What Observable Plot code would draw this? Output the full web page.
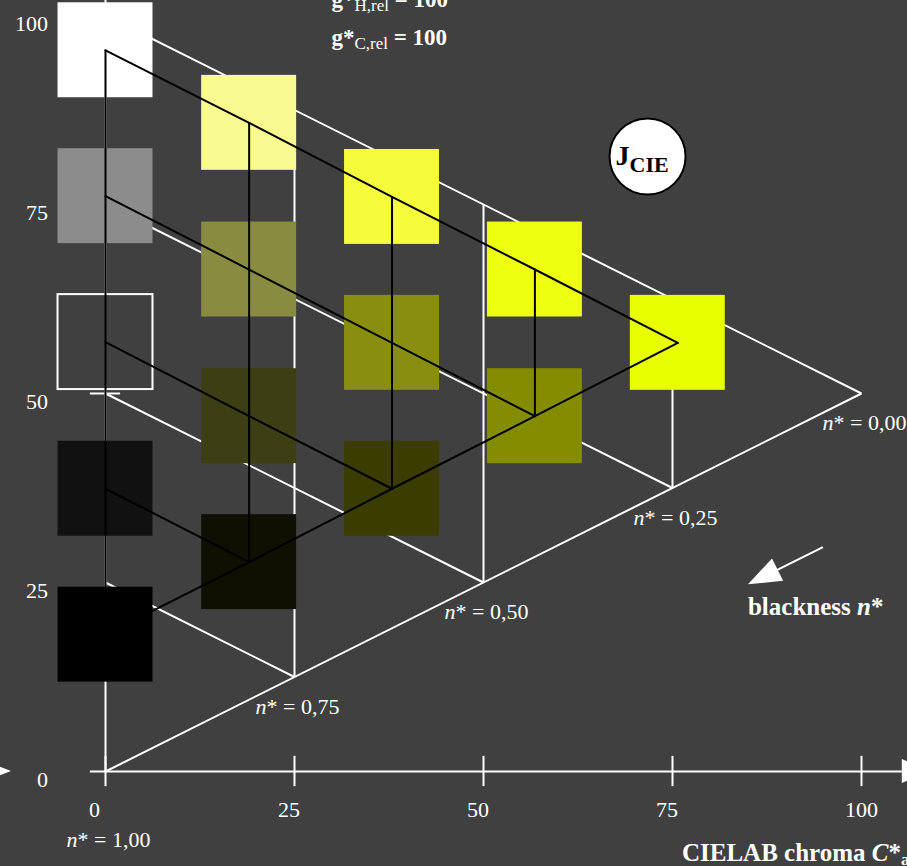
<!DOCTYPE html>
<html>
<head>
<meta charset="utf-8">
<script src="https://cdn.jsdelivr.net/npm/d3@7"></script>
<script src="https://cdn.jsdelivr.net/npm/@observablehq/plot@0.6"></script>
<style>
  html, body { margin: 0; padding: 0; background: #404040; overflow: hidden; }
</style>
</head>
<body>
<div id="chart"></div>
<script>
// Hue triangle of a yellow colour series in the CIELAB chroma / lightness plane.

// Sample colours: triangle column (relative chroma step), blackness row,
// CIELAB chroma C*ab, lightness L* and display colour.
const sampleColumn    = [0, 0, 0, 0, 0,   1, 1, 1, 1,   2, 2, 2,   3, 3,   4];
const sampleRow       = [0, 1, 2, 3, 4,   0, 1, 2, 3,   0, 1, 2,   0, 1,   0];
const sampleChroma    = [0, 0, 0, 0, 0,   19.0, 19.0, 19.0, 19.0,   37.9, 37.9, 37.9,   56.8, 56.8,   75.7];
const sampleLightness = [95.4, 76.1, 56.8, 37.4, 18.1,   85.8, 66.4, 47.0, 27.7,   76.0, 56.7, 37.4,   66.4, 47.0,   56.7];
const sampleFill      = ["#ffffff", "#8c8c8c", "#404040", "#111111", "#000000",
                         "#f9fb90", "#898c40", "#3c3e14", "#101002",
                         "#f5fc3c", "#8a8e10", "#3a3c00",
                         "#eeff10", "#848c00",
                         "#e8ff00"];
const outlinedSample  = 2;  // the mid-grey sample equals the background and is drawn outlined

// Reference triangle: white W, black N and the most chromatic colour (C*, L*).
const refWhite  = [0, 100];
const refBlack  = [0, 0];
const refColour = [100, 50];
const gridSteps = [0.25, 0.5, 0.75];

// Axis ticks and blackness labels.
const chromaTicks    = [0, 25, 50, 75, 100];
const lightnessTicks = [0, 25, 50, 75, 100];
const lightnessTickMarks = [50];
const blacknessLevels = [0, 0.25, 0.5, 0.75, 1];
const blacknessLabels = ["0,00", "0,25", "0,50", "0,75", "1,00"];

// Annotations (data coordinates).
const jcieCentre = [71.7, 81.35];
const blacknessArrow = {from: [94.97, 29.6], to: [85.05, 24.7]};
const axisEnd = 105.4;

const SERIF = "'Liberation Serif', 'DejaVu Serif', serif";
const BG = "#404040";
const half = 6.28;   // half side of a sample square, in axis units

// point inside the reference triangle for relative chroma c and blackness n
function refPoint(c, n) {
  const w = 1 - c - n;
  return [
    w * refWhite[0] + n * refBlack[0] + c * refColour[0],
    w * refWhite[1] + n * refBlack[1] + c * refColour[1]
  ];
}

const samples = sampleChroma.map((C, i) => ({
  col: sampleColumn[i], row: sampleRow[i], C, L: sampleLightness[i], fill: sampleFill[i]
}));

// white reference grid segments
const whiteSegments = [];
function seg(a, b) { whiteSegments.push({x1: a[0], y1: a[1], x2: b[0], y2: b[1]}); }
seg(refWhite, refColour);
seg(refBlack, refColour);
for (const s of gridSteps) {
  seg(refPoint(0, s), refPoint(1 - s, s));   // constant blackness
  seg(refPoint(s, 0), refPoint(s, 1 - s));   // constant relative chroma
}

// black lines through the sample centres
const blackLines = [];
const maxStep = d3.max(sampleColumn);
for (let j = 0; j <= maxStep; j++) {
  const colPts = samples.filter(d => d.col === j).sort((a, b) => a.row - b.row);
  if (colPts.length > 1) colPts.forEach(d => blackLines.push({g: "c" + j, x: d.C, y: d.L}));
  const rowPts = samples.filter(d => d.row === j).sort((a, b) => a.col - b.col);
  if (rowPts.length > 1) rowPts.forEach(d => blackLines.push({g: "r" + j, x: d.C, y: d.L}));
}
samples.filter(d => d.col + d.row === maxStep)
  .sort((a, b) => a.col - b.col)
  .forEach(d => blackLines.push({g: "edge", x: d.C, y: d.L}));

// text with styled runs (bold / italic / subscript)
function richText(items) {
  return (index, scales) => {
    const g = d3.create("svg:g").attr("font-family", SERIF);
    for (const it of items) {
      const t = g.append("text")
        .attr("x", scales.x(it.x) + (it.dx || 0))
        .attr("y", scales.y(it.y) + (it.dy || 0))
        .attr("text-anchor", it.anchor || "start")
        .attr("font-size", it.size)
        .attr("fill", it.fill || "#ffffff");
      let shift = 0;
      for (const p of it.parts) {
        const s = t.append("tspan").text(p.text);
        if (p.bold) s.attr("font-weight", "bold");
        if (p.italic) s.attr("font-style", "italic");
        if (p.size) s.attr("font-size", p.size);
        const target = p.sub || 0;
        if (target !== shift) { s.attr("dy", target - shift); shift = target; }
      }
    }
    return g.node();
  };
}

// filled arrow head with its tip at a data point, direction in pixel space
function arrowHead(tip, dir, length, halfWidth) {
  return (index, scales) => {
    const tx = scales.x(tip[0]), ty = scales.y(tip[1]);
    const n = Math.hypot(dir[0], dir[1]);
    const ux = dir[0] / n, uy = dir[1] / n;
    const bx = tx - ux * length, by = ty - uy * length;
    const pts = [[tx, ty], [bx - uy * halfWidth, by + ux * halfWidth], [bx + uy * halfWidth, by - ux * halfWidth]];
    return d3.create("svg:polygon")
      .attr("points", pts.map(p => p.join(",")).join(" "))
      .attr("fill", "#ffffff").node();
  };
}

// arrow from one data point to another with a filled head
function dataArrow(from, to, headLength, halfWidth) {
  return (index, scales) => {
    const x0 = scales.x(from[0]), y0 = scales.y(from[1]);
    const x1 = scales.x(to[0]), y1 = scales.y(to[1]);
    const n = Math.hypot(x1 - x0, y1 - y0);
    const ux = (x1 - x0) / n, uy = (y1 - y0) / n;
    const bx = x1 - ux * headLength, by = y1 - uy * headLength;
    const g = d3.create("svg:g");
    g.append("line").attr("x1", x0).attr("y1", y0).attr("x2", bx + ux * 2).attr("y2", by + uy * 2)
      .attr("stroke", "#ffffff").attr("stroke-width", 2);
    g.append("polygon")
      .attr("points", [[x1, y1], [bx - uy * halfWidth, by + ux * halfWidth], [bx + uy * halfWidth, by - ux * halfWidth]]
        .map(p => p.join(",")).join(" "))
      .attr("fill", "#ffffff");
    return g.node();
  };
}

const labelPoints = blacknessLevels.map((n, i) => {
  const p = refPoint(1 - n, n);
  return {x: p[0], y: p[1], label: blacknessLabels[i], n};
});

const texts = [
  // axis tick labels
  ...chromaTicks.map(c => ({x: c, y: 0, dx: -16, dy: 45.7, size: 22, parts: [{text: String(c)}]})),
  ...lightnessTicks.map(l => ({x: 0, y: l, dx: -57, dy: 15.5, size: 22, anchor: "end", parts: [{text: String(l)}]})),
  // blackness labels along the lower edge
  ...labelPoints.map(d => ({
    x: d.x, y: d.y, dx: -38.5, dy: d.n === 1 ? 75.7 : 37, size: 22,
    parts: [{text: "n", italic: true}, {text: "* = " + d.label}]
  })),
  // relative gamut values
  {x: 29.96, y: 101.06, size: 23, parts: [{text: "g*", bold: true}, {text: "H,rel", size: 17, sub: 3.5}, {text: " = 100", bold: true}]},
  {x: 29.96, y: 96.03, size: 23, parts: [{text: "g*", bold: true}, {text: "C,rel", size: 17, sub: 3.5}, {text: " = 100", bold: true}]},
  // CIE lightness badge
  {x: jcieCentre[0], y: jcieCentre[1], dx: -31.5, dy: 9, size: 28, fill: "#000000",
   parts: [{text: "J", bold: true}, {text: "CIE", bold: true, size: 22, sub: 6.7}]},
  // axis title and blackness direction
  {x: 85.05, y: 20.63, size: 25, parts: [{text: "blackness ", bold: true}, {text: "n", bold: true, italic: true}, {text: "*", bold: true}]},
  {x: 76.32, y: -11.9, size: 25, parts: [{text: "CIELAB chroma ", bold: true}, {text: "C", bold: true, italic: true}, {text: "*", bold: true}, {text: "ab", bold: true, size: 17, sub: 4}]}
];

const chart = Plot.plot({
  width: 907,
  height: 866,
  margin: 0,
  style: {background: BG, fontFamily: SERIF},
  x: {domain: [0, 100], range: [105, 861], axis: null},
  y: {domain: [0, 100], range: [771, 15], axis: null},
  marks: [
    // axes
    Plot.ruleY([0], {x1: -2, x2: axisEnd, stroke: "#ffffff", strokeWidth: 2}),
    Plot.ruleX([0], {y1: 0, y2: 103, stroke: "#ffffff", strokeWidth: 2}),
    Plot.ruleX(chromaTicks, {x: d => d, y1: -2, y2: 2, stroke: "#ffffff", strokeWidth: 2}),
    Plot.ruleY(lightnessTickMarks, {y: d => d, x1: -2, x2: 2, stroke: "#ffffff", strokeWidth: 2}),
    arrowHead([axisEnd + 3.7, 0], [1, 0], 28, 12),
    arrowHead([-12.43, 0], [1, 0], 16, 6),
    // white reference triangle
    Plot.link(whiteSegments, {x1: "x1", y1: "y1", x2: "x2", y2: "y2", stroke: "#ffffff", strokeWidth: 2}),
    // sample squares
    Plot.rect(samples, {
      x1: d => d.C - half, x2: d => d.C + half,
      y1: d => d.L - half, y2: d => d.L + half,
      fill: d => d.fill
    }),
    Plot.rect(samples.filter((d, i) => i === outlinedSample), {
      x1: d => d.C - half, x2: d => d.C + half,
      y1: d => d.L - half, y2: d => d.L + half,
      fill: BG, stroke: "#ffffff", strokeWidth: 2
    }),
    // black triangle through the sample centres
    Plot.line(blackLines, {x: "x", y: "y", z: "g", stroke: "#000000", strokeWidth: 2}),
    // badge
    Plot.dot([jcieCentre], {x: d => d[0], y: d => d[1], r: 38, fill: "#ffffff", stroke: "#000000", strokeWidth: 2}),
    dataArrow(blacknessArrow.from, blacknessArrow.to, 33, 12.5),
    richText(texts)
  ]
});

document.getElementById("chart").appendChild(chart);
</script>
</body>
</html>
